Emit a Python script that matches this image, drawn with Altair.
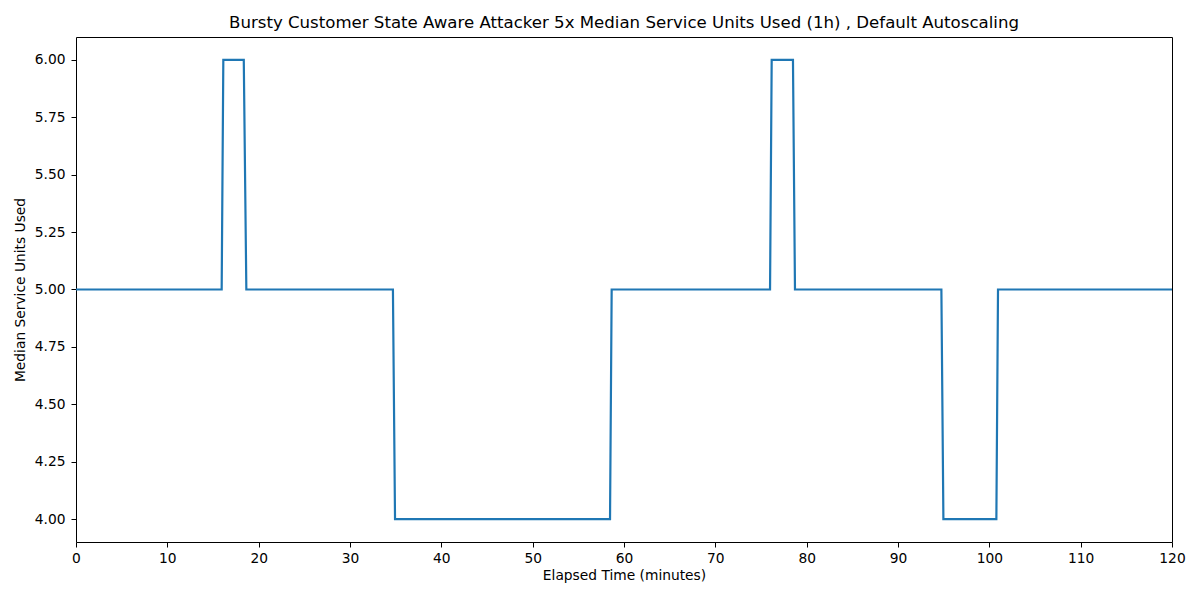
import altair as alt
import pandas as pd

# Vertices of the step-shaped median series (minutes, service units)
elapsed_minutes = [0, 15.95, 16.13, 18.37, 18.65, 34.70, 34.93, 58.47, 58.65,
                   75.99, 76.17, 78.50, 78.72, 94.75, 94.97, 100.77, 100.95, 120]
median_units = [5, 5, 6, 6, 5, 5, 4, 4, 5, 5, 6, 6, 5, 5, 4, 4, 5, 5]

x_ticks = [0, 10, 20, 30, 40, 50, 60, 70, 80, 90, 100, 110, 120]
y_ticks = [4.0, 4.25, 4.5, 4.75, 5.0, 5.25, 5.5, 5.75, 6.0]

df = pd.DataFrame({"t": elapsed_minutes, "u": median_units, "order": list(range(len(elapsed_minutes)))})

FONT = "DejaVu Sans"

chart = alt.Chart(df).mark_line(color="#1f77b4", strokeWidth=2.2, clip=True).encode(
    x=alt.X("t:Q", title="Elapsed Time (minutes)",
            scale=alt.Scale(domain=[0, 120], nice=False, zero=False),
            axis=alt.Axis(values=x_ticks, format="d", titlePadding=4, labelPadding=4,
                          labelFlush=False, labelOverlap=False)),
    y=alt.Y("u:Q", title="Median Service Units Used",
            scale=alt.Scale(domain=[3.9, 6.1], nice=False, zero=False),
            axis=alt.Axis(values=y_ticks, format=".2f", titlePadding=7, labelPadding=6,
                          labelFlush=False, labelOverlap=False)),
    order="order:Q",
).properties(
    width=1096,
    height=505,
    title=alt.TitleParams(
        "Bursty Customer State Aware Attacker 5x Median Service Units Used (1h) , Default Autoscaling",
        font=FONT, fontSize=16.6, fontWeight="normal", color="black", anchor="middle", offset=5,
    ),
    autosize=alt.AutoSizeParams(type="none"),
    padding={"left": 68, "top": 29, "right": 20, "bottom": 50},
).configure_view(
    stroke="black", strokeWidth=1
).configure_axis(
    grid=False,
    domain=False,
    tickColor="black",
    tickSize=5,
    tickWidth=1,
    labelFont=FONT,
    labelFontSize=13.8,
    labelColor="black",
    titleFont=FONT,
    titleFontSize=13.8,
    titleFontWeight="normal",
    titleColor="black",
)

chart.save("out.html", embed_options={"renderer": "svg", "actions": False})
